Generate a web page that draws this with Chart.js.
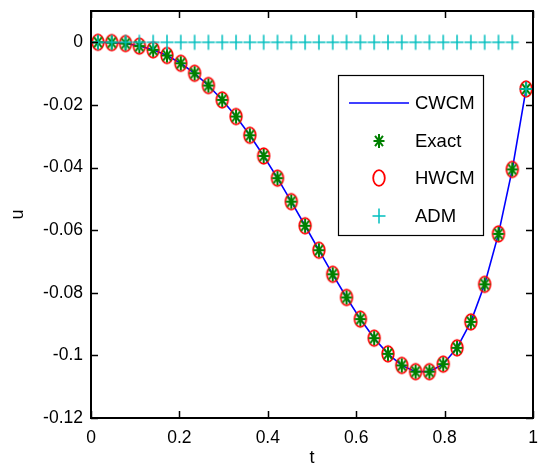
<!DOCTYPE html>
<html><head><meta charset="utf-8">
<script src="https://cdn.jsdelivr.net/npm/chart.js@4.4.0/dist/chart.umd.min.js"></script>
<style>html,body{margin:0;padding:0;background:#fff;}#wrap{width:539px;height:470px;}</style>
</head><body><div id="wrap"><canvas id="c" width="539" height="470"></canvas></div>
<script>
const tU = [0.015625,0.046875,0.078125,0.109375,0.140625,0.171875,0.203125,0.234375,0.265625,0.296875,0.328125,0.359375,0.390625,0.421875,0.453125,0.484375,0.515625,0.546875,0.578125,0.609375,0.640625,0.671875,0.703125,0.734375,0.765625,0.796875,0.828125,0.859375,0.890625,0.921875,0.953125,0.984375];
const exactU = [0,-0.0001,-0.0004,-0.0012,-0.0024,-0.0042,-0.0067,-0.0099,-0.0138,-0.0184,-0.0237,-0.0297,-0.0363,-0.0434,-0.0509,-0.0586,-0.0664,-0.0741,-0.0815,-0.0884,-0.0945,-0.0995,-0.1032,-0.1052,-0.1052,-0.1028,-0.0976,-0.0893,-0.0773,-0.0612,-0.0406,-0.0149];
const cwcmU = [0,-0.0001,-0.0004,-0.0012,-0.0024,-0.0042,-0.0067,-0.0099,-0.0138,-0.0184,-0.0237,-0.0297,-0.0363,-0.0434,-0.0509,-0.0586,-0.0664,-0.0741,-0.0815,-0.0884,-0.0945,-0.0995,-0.1032,-0.1052,-0.1052,-0.1028,-0.0976,-0.0893,-0.0773,-0.0612,-0.0406,-0.0149];
const hwcmU = [0,-0.0001,-0.0004,-0.0012,-0.0024,-0.0042,-0.0067,-0.0099,-0.0138,-0.0184,-0.0237,-0.0297,-0.0363,-0.0434,-0.0509,-0.0586,-0.0664,-0.0741,-0.0815,-0.0884,-0.0945,-0.0995,-0.1032,-0.1052,-0.1052,-0.1028,-0.0976,-0.0893,-0.0773,-0.0612,-0.0406,-0.0149];
const admU = [0,0,0,0,0,0,0,0,0,0,0,0,0,0,0,0,0,0,0,0,0,0,0,0,0,0,0,0,0,0,0,-0.0149];
const xTicks = [0,0.2,0.4,0.6,0.8,1];
const yTicks = [0,-0.02,-0.04,-0.06,-0.08,-0.1,-0.12];
const seriesNames = ['CWCM','Exact','HWCM','ADM'];

const FONT = 'Liberation Sans, Arial, sans-serif';
function mk(w,h,draw){const c=document.createElement('canvas');c.width=w;c.height=h;const g=c.getContext('2d');draw(g,w/2,h/2);return c;}
const ellipseImg = mk(18,22,(g,cx,cy)=>{g.strokeStyle='#FF0000';g.lineWidth=1.8;g.beginPath();g.ellipse(cx,cy,5.8,7.8,0,0,Math.PI*2);g.stroke();});
const starImg = mk(16,18,(g,cx,cy)=>{g.strokeStyle='#008000';g.lineWidth=2;const a=5.5,b=7,d=0.72;g.beginPath();
  g.moveTo(cx-a,cy);g.lineTo(cx+a,cy);g.moveTo(cx,cy-b);g.lineTo(cx,cy+b);
  g.moveTo(cx-a*d,cy-b*d);g.lineTo(cx+a*d,cy+b*d);g.moveTo(cx-a*d,cy+b*d);g.lineTo(cx+a*d,cy-b*d);g.stroke();});
const plusImg = mk(18,20,(g,cx,cy)=>{g.strokeStyle='#00BFBF';g.lineWidth=1.5;g.beginPath();
  g.moveTo(cx-6.5,cy);g.lineTo(cx+6.5,cy);g.moveTo(cx,cy-7.5);g.lineTo(cx,cy+7.5);g.stroke();});

const pts = arr => tU.map((t,i)=>({x:t,y:arr[i]}));
const fmt = v => { const s = Number(v.toFixed(2)); return (s===0?0:s).toString(); };

const boxPlugin = {
  id:'box',
  afterDraw(chart){
    const {ctx, chartArea:a, scales:{x,y}} = chart;
    ctx.save();
    ctx.strokeStyle='#000'; ctx.lineWidth=1.5;
    ctx.beginPath();
    xTicks.forEach(v=>{const px=Math.round(x.getPixelForValue(v))+0.5;
      ctx.moveTo(px,a.bottom);ctx.lineTo(px,a.bottom-7);ctx.moveTo(px,a.top);ctx.lineTo(px,a.top+7);});
    yTicks.forEach(v=>{const py=Math.round(y.getPixelForValue(v))+0.5;
      ctx.moveTo(a.left,py);ctx.lineTo(a.left+7,py);ctx.moveTo(a.right,py);ctx.lineTo(a.right-7,py);});
    ctx.stroke();
    ctx.lineWidth=2;
    ctx.strokeRect(a.left,a.top,a.right-a.left,a.bottom-a.top);
    // legend
    const L=338.5,T=75.5,W=145,H=160;
    ctx.fillStyle='#fff';ctx.fillRect(L,T,W,H);
    ctx.lineWidth=1.2;ctx.strokeStyle='#000';ctx.strokeRect(L,T,W,H);
    const rows=[103,141,178,216], sx=379;
    ctx.strokeStyle='#0000FF';ctx.lineWidth=1.5;ctx.beginPath();ctx.moveTo(349,rows[0]);ctx.lineTo(409,rows[0]);ctx.stroke();
    [starImg,ellipseImg,plusImg].forEach((im,i)=>ctx.drawImage(im,sx-im.width/2,rows[i+1]-im.height/2));
    ctx.fillStyle='#000';ctx.font='18.5px '+FONT;ctx.textBaseline='middle';ctx.textAlign='left';
    seriesNames.forEach((n,i)=>ctx.fillText(n,415,rows[i]+1));
    ctx.restore();
  }
};

new Chart(document.getElementById('c'),{
  type:'scatter',
  data:{datasets:[
    {label:seriesNames[0],data:pts(cwcmU),showLine:true,borderColor:'#0000FF',borderWidth:1.6,pointRadius:0,pointHoverRadius:0,order:4,clip:false},
    {label:seriesNames[2],data:pts(hwcmU),showLine:false,pointStyle:ellipseImg,order:3,clip:false},
    {label:seriesNames[1],data:pts(exactU),showLine:false,pointStyle:starImg,order:2,clip:false},
    {label:seriesNames[3],data:pts(admU),showLine:false,pointStyle:plusImg,order:1,clip:false}
  ]},
  options:{
    responsive:false,animation:false,
    layout:{padding:{top:11,right:6,left:0,bottom:0}},
    plugins:{legend:{display:false},tooltip:{enabled:false}},
    scales:{
      x:{type:'linear',min:0,max:1,
        afterBuildTicks:s=>{s.ticks=xTicks.map(v=>({value:v}));},
        afterFit:s=>{s.height=52;s.paddingLeft=0;s.paddingRight=0;},
        grid:{display:false,drawTicks:false},border:{display:false},
        ticks:{color:'#000',font:{family:FONT,size:17.5},padding:10,maxRotation:0,callback:v=>fmt(v)},
        title:{display:true,text:'t',color:'#000',font:{family:FONT,size:18},padding:{top:0,bottom:1}}},
      y:{type:'linear',min:-0.12,max:0.01,
        afterBuildTicks:s=>{s.ticks=yTicks.map(v=>({value:v}));},
        afterFit:s=>{s.width=91;s.paddingTop=0;s.paddingBottom=0;},
        grid:{display:false,drawTicks:false},border:{display:false},
        ticks:{color:'#000',font:{family:FONT,size:17.5},padding:8,callback:v=>fmt(v)},
        title:{display:true,text:'u',color:'#000',font:{family:FONT,size:18},padding:{top:7,bottom:0}}}
    }
  },
  plugins:[boxPlugin]
});
</script></body></html>
